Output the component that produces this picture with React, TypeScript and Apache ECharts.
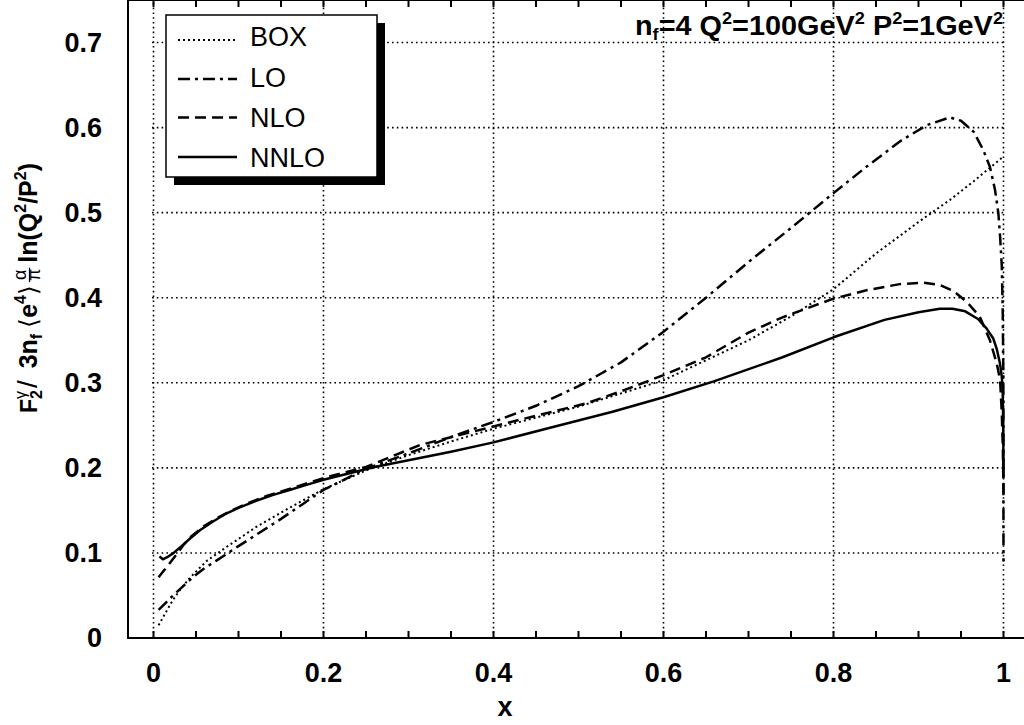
import React, { useEffect, useRef } from "react";
import * as echarts from "echarts";

// ---------- data ----------
const BOX_X = [0.006, 0.015, 0.023, 0.033, 0.043, 0.063, 0.086, 0.12, 0.16, 0.2, 0.25, 0.3, 0.35, 0.4, 0.5, 0.6, 0.7, 0.75, 0.8, 0.85, 0.9, 0.937, 0.965, 1.0];
const BOX_Y = [0.015, 0.031, 0.045, 0.059, 0.071, 0.091, 0.107, 0.13, 0.153, 0.175, 0.197, 0.215, 0.231, 0.246, 0.272, 0.303, 0.35, 0.378, 0.41, 0.452, 0.489, 0.515, 0.537, 0.566];

const LO_X = [0.006, 0.015, 0.023, 0.035, 0.047, 0.06, 0.074, 0.1, 0.125, 0.15, 0.175, 0.2, 0.25, 0.3, 0.36, 0.4, 0.45, 0.5, 0.55, 0.6, 0.65, 0.7, 0.75, 0.8, 0.84, 0.88, 0.91, 0.937, 0.95, 0.965, 0.976, 0.984, 0.99, 0.994, 0.996, 0.998, 0.9991, 0.9998, 1.0];
const LO_Y = [0.033, 0.042, 0.05, 0.061, 0.072, 0.082, 0.091, 0.108, 0.124, 0.14, 0.157, 0.174, 0.199, 0.217, 0.24, 0.254, 0.273, 0.296, 0.324, 0.36, 0.4, 0.442, 0.482, 0.523, 0.555, 0.585, 0.603, 0.612, 0.608, 0.595, 0.574, 0.554, 0.527, 0.499, 0.472, 0.437, 0.382, 0.311, 0.09];

const NLO_X = [0.006, 0.012, 0.019, 0.027, 0.035, 0.045, 0.06, 0.075, 0.09, 0.11, 0.133, 0.172, 0.2, 0.25, 0.3135, 0.36, 0.43, 0.51, 0.55, 0.6, 0.65, 0.7, 0.74, 0.8, 0.84, 0.878, 0.906, 0.925, 0.941, 0.957, 0.972, 0.984, 0.992, 0.996, 0.998, 0.9993, 1.0];
const NLO_Y = [0.0713, 0.079, 0.0878, 0.098, 0.109, 0.12, 0.132, 0.141, 0.149, 0.158, 0.167, 0.179, 0.188, 0.201, 0.2269, 0.2386, 0.2563, 0.276, 0.29, 0.309, 0.33, 0.359, 0.377, 0.399, 0.409, 0.416, 0.4177, 0.415, 0.408, 0.395, 0.378, 0.35, 0.323, 0.303, 0.264, 0.22, 0.17];

const NNLO_X = [0.007, 0.011, 0.016, 0.023, 0.033, 0.043, 0.055, 0.07, 0.085, 0.1, 0.12, 0.14, 0.16, 0.18, 0.2, 0.22, 0.26, 0.3, 0.35, 0.4, 0.47, 0.54, 0.6, 0.66, 0.74, 0.8, 0.86, 0.9, 0.925, 0.94, 0.955, 0.97, 0.98, 0.988, 0.992, 0.996, 0.998, 0.999, 0.9997, 1.0];
const NNLO_Y = [0.096, 0.0925, 0.095, 0.0995, 0.108, 0.117, 0.127, 0.137, 0.146, 0.153, 0.161, 0.168, 0.174, 0.18, 0.186, 0.191, 0.201, 0.209, 0.219, 0.23, 0.248, 0.266, 0.283, 0.302, 0.33, 0.3535, 0.374, 0.383, 0.387, 0.387, 0.384, 0.375, 0.364, 0.352, 0.34, 0.322, 0.307, 0.292, 0.25, 0.19];

const SERIES_NAMES = ["BOX", "LO", "NLO", "NNLO"];

// axes
const X_RANGE = [0, 1];
const Y_RANGE = [0, 0.75];
const FRAME_X = [-0.03, 1.0265];
const X_GRID = [0, 0.2, 0.4, 0.6, 0.8, 1];
const Y_GRID = [0.1, 0.2, 0.3, 0.4, 0.5, 0.6, 0.7];
const X_TICKS = [0, 0.05, 0.1, 0.15, 0.2, 0.25, 0.3, 0.35, 0.4, 0.45, 0.5, 0.55, 0.6, 0.65, 0.7, 0.75, 0.8, 0.85, 0.9, 0.95, 1];
const Y_TICKS = [0.05, 0.1, 0.15, 0.2, 0.25, 0.3, 0.35, 0.4, 0.45, 0.5, 0.55, 0.6, 0.65, 0.7];

// ---------- layout ----------
const PLOT = { left: 153.5, top: 0, width: 850, height: 638 };
const TICK_PX = 7;
const TICK_DX = (TICK_PX * (X_RANGE[1] - X_RANGE[0])) / PLOT.width;
const TICK_DY = (TICK_PX * (Y_RANGE[1] - Y_RANGE[0])) / PLOT.height;

// ---------- styling ----------
const FAM = '"Liberation Sans", Arial, Helvetica, sans-serif';
const DASHES: Record<string, number[] | "solid"> = {
  BOX: [2, 3],
  LO: [12, 5, 3, 5],
  NLO: [11, 6],
  NNLO: "solid",
};
const WIDTHS: Record<string, number> = { BOX: 2, LO: 2.5, NLO: 2.5, NNLO: 2.5 };
const black = "#000";

const zip = (xs: number[], ys: number[]) => xs.map((x, i) => [x, ys[i]]);

let measureCtx: CanvasRenderingContext2D | null = null;
function tw(t: string, font: string) {
  if (!measureCtx) measureCtx = document.createElement("canvas").getContext("2d");
  measureCtx!.font = font;
  return measureCtx!.measureText(t).width;
}

type Part =
  | { k: "m"; t: string; size?: number; weight?: string }
  | { k: "sup"; t: string }
  | { k: "sub"; t: string }
  | { k: "ss"; sup: string; sub: string }
  | { k: "frac"; num: string; den: string }
  | { k: "gap"; w: number };

function fontOf(size: number, weight = "bold", fam = FAM) {
  return `${weight} ${size}px ${fam}`;
}

function textEl(t: string, x: number, baseline: number, size: number, weight = "bold", fam = FAM) {
  return {
    type: "text",
    x,
    y: baseline - 0.35 * size,
    silent: true,
    style: { text: t, font: fontOf(size, weight, fam), fill: black, align: "left", verticalAlign: "middle" },
  };
}

function layoutRun(parts: Part[], S: number) {
  const els: any[] = [];
  let x = 0;
  const small = Math.round(S * 0.62);
  for (const p of parts) {
    if (p.k === "m") {
      const size = p.size ?? S;
      const w = p.weight ?? "bold";
      els.push(textEl(p.t, x, 0, size, w));
      x += tw(p.t, fontOf(size, w));
    } else if (p.k === "sup") {
      els.push(textEl(p.t, x, -0.42 * S, small));
      x += tw(p.t, fontOf(small));
    } else if (p.k === "sub") {
      els.push(textEl(p.t, x, 0.2 * S, small));
      x += tw(p.t, fontOf(small));
    } else if (p.k === "ss") {
      els.push(textEl(p.sup, x, -0.42 * S, small, "normal"));
      els.push(textEl(p.sub, x, 0.22 * S, small));
      x += Math.max(tw(p.sup, fontOf(small, "normal")), tw(p.sub, fontOf(small)));
    } else if (p.k === "frac") {
      const fs = Math.round(S * 0.72);
      const wn = tw(p.num, fontOf(fs, "normal"));
      const wd = tw(p.den, fontOf(fs, "normal"));
      const w = Math.max(wn, wd) + 2;
      els.push(textEl(p.num, x + (w - wn) / 2, -0.42 * S, fs, "normal"));
      els.push(textEl(p.den, x + (w - wd) / 2, 0.12 * S, fs, "normal"));
      els.push({
        type: "line",
        silent: true,
        shape: { x1: x, y1: -0.3 * S, x2: x + w, y2: -0.3 * S },
        style: { stroke: black, lineWidth: 1.2 },
      });
      x += w;
    } else if (p.k === "gap") {
      x += p.w;
    }
  }
  return { els, width: x };
}

function buildGraphics() {
  const g: any[] = [];

  // y-axis title (rotated)
  const yParts: Part[] = [
    { k: "m", t: "F", size: 23 },
    { k: "ss", sup: "γ", sub: "2" },
    { k: "gap", w: 2 },
    { k: "m", t: "/", size: 28, weight: "normal" },
    { k: "gap", w: 12 },
    { k: "m", t: "3n" },
    { k: "sub", t: "f" },
    { k: "gap", w: 6 },
    { k: "m", t: "⟨", weight: "normal" },
    { k: "m", t: "e" },
    { k: "sup", t: "4" },
    { k: "m", t: "⟩", weight: "normal" },
    { k: "gap", w: 3 },
    { k: "frac", num: "α", den: "π" },
    { k: "gap", w: 5 },
    { k: "m", t: "ln(Q" },
    { k: "sup", t: "2" },
    { k: "m", t: "/P" },
    { k: "sup", t: "2" },
    { k: "m", t: ")" },
  ];
  const yr = layoutRun(yParts, 25);
  g.push({
    type: "group",
    x: 37,
    y: 413,
    rotation: Math.PI / 2,
    scaleX: 250 / yr.width,
    children: yr.els,
  });

  // annotation top-right
  const aParts: Part[] = [
    { k: "m", t: "n" },
    { k: "sub", t: "f" },
    { k: "m", t: "=4 Q" },
    { k: "sup", t: "2" },
    { k: "m", t: "=100GeV" },
    { k: "sup", t: "2" },
    { k: "m", t: " P" },
    { k: "sup", t: "2" },
    { k: "m", t: "=1GeV" },
    { k: "sup", t: "2" },
  ];
  const ar = layoutRun(aParts, 27);
  g.push({ type: "group", x: 635, y: 35, z: 60, scaleX: 368 / ar.width, children: ar.els });

  // legend
  const L = { x: 166, y: 15, w: 211, h: 162 };
  g.push({ type: "rect", silent: true, z: 50, shape: { x: L.x + 8, y: L.y + 8, width: L.w, height: L.h }, style: { fill: black } });
  g.push({ type: "rect", silent: true, z: 51, shape: { x: L.x, y: L.y, width: L.w, height: L.h }, style: { fill: "#fff", stroke: black, lineWidth: 1.5 } });
  const rows = [40, 79, 117.5, 157];
  const textRows = [37, 77.5, 117.5, 157.5];
  SERIES_NAMES.forEach((n, i) => {
    const d = DASHES[n];
    g.push({
      type: "line",
      silent: true,
      z: 52,
      shape: { x1: 178, y1: rows[i], x2: 237, y2: rows[i] },
      style: { stroke: black, lineWidth: WIDTHS[n], lineDash: d === "solid" ? null : d },
    });
    g.push({
      type: "text",
      silent: true,
      z: 52,
      x: 250,
      y: textRows[i],
      style: { text: n, font: fontOf(27, "normal"), fill: black, align: "left", verticalAlign: "middle" },
    });
  });

  // x-axis title
  g.push({
    type: "text",
    silent: true,
    x: 505,
    y: 707,
    style: { text: "x", font: fontOf(27, "bold"), fill: black, align: "center", verticalAlign: "middle" },
  });
  return g;
}

// guide lines (grid + ticks) as two-point line series on the data axes
function guide(name: string, a: number[], b: number[], width: number, dash: number[] | "solid") {
  return {
    type: "line",
    name,
    xAxisIndex: 2,
    yAxisIndex: 2,
    data: [a, b],
    showSymbol: false,
    symbol: "none",
    clip: false,
    silent: true,
    z: 1,
    lineStyle: { color: black, width, type: dash as any, cap: "butt" },
  };
}

export default function App() {
  const ref = useRef<HTMLDivElement>(null);
  useEffect(() => {
    if (!ref.current) return;
    const chart = echarts.init(ref.current, undefined, { renderer: "svg" });

    const curves = [
      { name: "BOX", data: zip(BOX_X, BOX_Y) },
      { name: "LO", data: zip(LO_X, LO_Y) },
      { name: "NLO", data: zip(NLO_X, NLO_Y) },
      { name: "NNLO", data: zip(NNLO_X, NNLO_Y) },
    ].map((s) => ({
      type: "line",
      name: s.name,
      xAxisIndex: 2,
      yAxisIndex: 2,
      data: s.data,
      showSymbol: false,
      symbol: "none",
      smooth: false,
      clip: false,
      z: 5,
      lineStyle: {
        color: black,
        width: WIDTHS[s.name],
        type: DASHES[s.name] as any,
        cap: "butt",
        join: "round",
      },
    }));

    const dot = [1.6, 3.2];
    const guides = [
      ...X_GRID.map((v, i) => guide("vgrid" + i, [v, Y_RANGE[0]], [v, Y_RANGE[1]], 1.6, dot)),
      ...Y_GRID.map((v, i) => guide("hgrid" + i, [FRAME_X[0], v], [FRAME_X[1], v], 1.6, dot)),
      ...X_TICKS.map((v, i) => guide("tb" + i, [v, Y_RANGE[0]], [v, Y_RANGE[0] + TICK_DY], 2, "solid")),
      ...X_TICKS.map((v, i) => guide("tt" + i, [v, Y_RANGE[1]], [v, Y_RANGE[1] - TICK_DY], 2, "solid")),
      ...Y_TICKS.map((v, i) => guide("tl" + i, [FRAME_X[0], v], [FRAME_X[0] + TICK_DX, v], 2, "solid")),
      ...Y_TICKS.map((v, i) => guide("tr" + i, [FRAME_X[1], v], [FRAME_X[1] - TICK_DX, v], 2, "solid")),
    ];

    const frameLine = { show: true, onZero: false, lineStyle: { color: black, width: 2 } };
    const off = { show: false };
    const labelStyle = { show: true, color: black, fontSize: 27, fontWeight: "bold", fontFamily: FAM };

    chart.setOption({
      animation: false,
      backgroundColor: "#fff",
      grid: [
        { left: 128, top: 0, width: 898, height: 638, containLabel: false },
        { ...PLOT, containLabel: false },
      ],
      xAxis: [
        { gridIndex: 0, type: "value", min: FRAME_X[0], max: FRAME_X[1], position: "bottom", axisLine: frameLine, axisTick: off, axisLabel: off, splitLine: off },
        { gridIndex: 0, type: "value", min: FRAME_X[0], max: FRAME_X[1], position: "top", axisLine: frameLine, axisTick: off, axisLabel: off, splitLine: off },
        {
          gridIndex: 1, type: "value", min: X_RANGE[0], max: X_RANGE[1], interval: 0.2, position: "bottom",
          axisLine: { show: false, onZero: false }, axisTick: off, splitLine: off,
          axisLabel: { ...labelStyle, margin: 21 },
        },
      ],
      yAxis: [
        {
          gridIndex: 0, type: "value", min: Y_RANGE[0], max: Y_RANGE[1], interval: 0.1, position: "left",
          axisLine: frameLine, axisTick: off, splitLine: off,
          axisLabel: { ...labelStyle, margin: 26, formatter: (v: number) => (v > 0.72 ? "" : String(Math.round(v * 10) / 10)) },
        },
        { gridIndex: 0, type: "value", min: Y_RANGE[0], max: Y_RANGE[1], position: "right", axisLine: frameLine, axisTick: off, axisLabel: off, splitLine: off },
        { gridIndex: 1, type: "value", min: Y_RANGE[0], max: Y_RANGE[1], show: false },
      ],
      series: [...guides, ...curves],
      graphic: buildGraphics(),
    } as any);
    return () => chart.dispose();
  }, []);
  return (
    <div style={{ position: "fixed", left: 0, top: 0, width: 1024, height: 725, overflow: "hidden", background: "#fff" }}>
      <div ref={ref} style={{ width: 1040, height: 725 }} />
    </div>
  );
}
